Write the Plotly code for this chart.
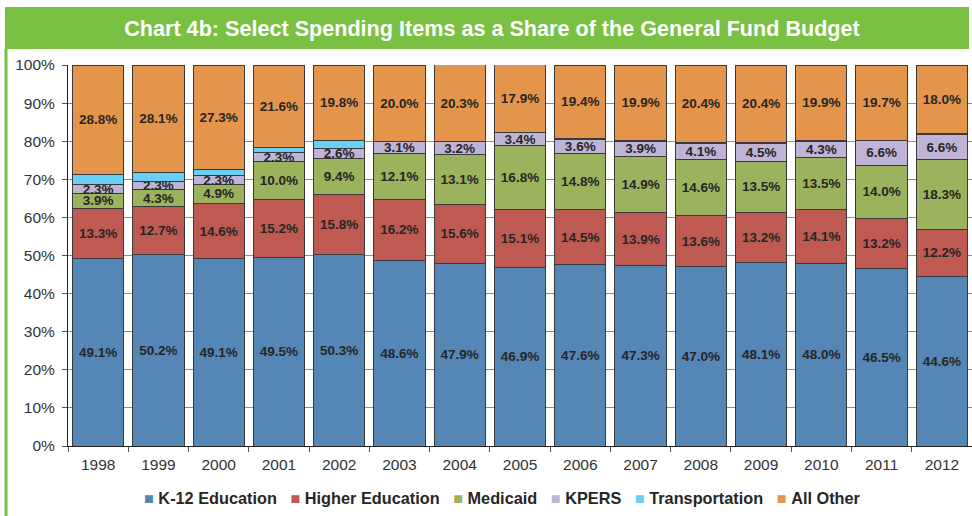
import plotly.graph_objects as go

years = ["1998", "1999", "2000", "2001", "2002", "2003", "2004", "2005",
         "2006", "2007", "2008", "2009", "2010", "2011", "2012"]
k12 = [49.1, 50.2, 49.1, 49.5, 50.3, 48.6, 47.9, 46.9, 47.6, 47.3, 47.0, 48.1, 48.0, 46.5, 44.6]
higher_ed = [13.3, 12.7, 14.6, 15.2, 15.8, 16.2, 15.6, 15.1, 14.5, 13.9, 13.6, 13.2, 14.1, 13.2, 12.2]
medicaid = [3.9, 4.3, 4.9, 10.0, 9.4, 12.1, 13.1, 16.8, 14.8, 14.9, 14.6, 13.5, 13.5, 14.0, 18.3]
kpers = [2.3, 2.3, 2.3, 2.3, 2.6, 3.1, 3.2, 3.4, 3.6, 3.9, 4.1, 4.5, 4.3, 6.6, 6.6]
transportation = [2.6, 2.4, 1.8, 1.4, 2.1, 0.0, 0.0, 0.0, 0.1, 0.1, 0.3, 0.3, 0.2, 0.0, 0.3]
all_other = [28.8, 28.1, 27.3, 21.6, 19.8, 20.0, 20.3, 17.9, 19.4, 19.9, 20.4, 20.4, 19.9, 19.7, 18.0]

series_names = ["K-12 Education", "Higher Education", "Medicaid", "KPERS", "Transportation", "All Other"]
series_values = [k12, higher_ed, medicaid, kpers, transportation, all_other]
series_colors = ["#5486B6", "#BF5A52", "#9BB35C", "#BFB3D6", "#6ACFF6", "#E5944C"]
series_labeled = [True, True, True, True, False, True]

FONT = "Arial, Liberation Sans, sans-serif"
W, H = 972, 516
L, R, T, B = 68, 0, 65, 70
PW, PH = W - L - R, H - T - B

fig = go.Figure()
for name, vals, color, show_lbl in zip(series_names, series_values, series_colors, series_labeled):
    fig.add_trace(go.Bar(
        name=name, x=years, y=vals,
        marker=dict(color=color, line=dict(color="#3a3a3a", width=1)),
        text=[f"{v:.1f}%" for v in vals] if show_lbl else None,
        textposition="inside" if show_lbl else "none",
        insidetextanchor="middle",
        textangle=0,
        textfont=dict(family=FONT, size=13.5, color="#262626", weight="bold"),
        hoverinfo="name+y",
        showlegend=False,
    ))

# legend drawn as a single line of text built from the series list
NB = "\u00a0"
legend_text = (NB * 3).join(
    f'<span style="color:{c}">\u25a0</span>{NB}{n}' for n, c in zip(series_names, series_colors)
)

fig.update_layout(
    barmode="stack",
    bargap=0.15,
    width=W, height=H,
    margin=dict(l=L, r=R, t=T, b=B, autoexpand=False),
    paper_bgcolor="white",
    plot_bgcolor="white",
    uniformtext=dict(minsize=13.5, mode="show"),
    font=dict(family=FONT, color="#333333"),
    title=dict(
        text="<b>Chart 4b: Select Spending Items as a Share of the General Fund Budget</b>",
        x=492 / W, xanchor="center", y=1 - 28 / H, yanchor="middle",
        font=dict(family=FONT, size=21.6, color="white"),
    ),
    showlegend=False,
    xaxis=dict(
        automargin=False,
        showline=True, linecolor="#222222", linewidth=1,
        ticks="outside", tickson="boundaries", ticklen=5, tickcolor="#555555",
        ticklabelstandoff=4,
        tickfont=dict(family=FONT, size=15.5, color="#333333"),
    ),
    yaxis=dict(
        automargin=False,
        range=[0, 100], dtick=10, ticksuffix="%",
        showline=True, linecolor="#222222", linewidth=1,
        ticks="outside", ticklen=5, tickcolor="#555555",
        ticklabelstandoff=4,
        showgrid=True, gridcolor="#8c8c8c", gridwidth=1,
        tickfont=dict(family=FONT, size=15.5, color="#333333"),
    ),
    annotations=[
        dict(text=legend_text, xref="paper", yref="paper",
             x=(502 - L) / PW, y=-(498 - (H - B)) / PH,
             xanchor="center", yanchor="middle", showarrow=False,
             font=dict(family=FONT, size=16.3, color="#262626", weight="bold")),
    ],
    shapes=[
        dict(type="rect", xref="paper", yref="paper",
             x0=(5 - L) / PW, x1=(969 - L) / PW, y0=1 + (T - 49) / PH, y1=1 + (T - 7) / PH,
             fillcolor="#7AC143", line=dict(width=0), layer="below"),
        dict(type="line", xref="paper", yref="paper",
             x0=(6 - L) / PW, x1=(6 - L) / PW, y0=-B / PH, y1=1 + (T - 49) / PH,
             line=dict(color="#7AC143", width=3)),
    ],
)

fig.write_html(
    "out.html",
    config={"displayModeBar": False},
    post_script="document.body.style.margin='0px'; document.body.style.overflow='hidden';",
)
